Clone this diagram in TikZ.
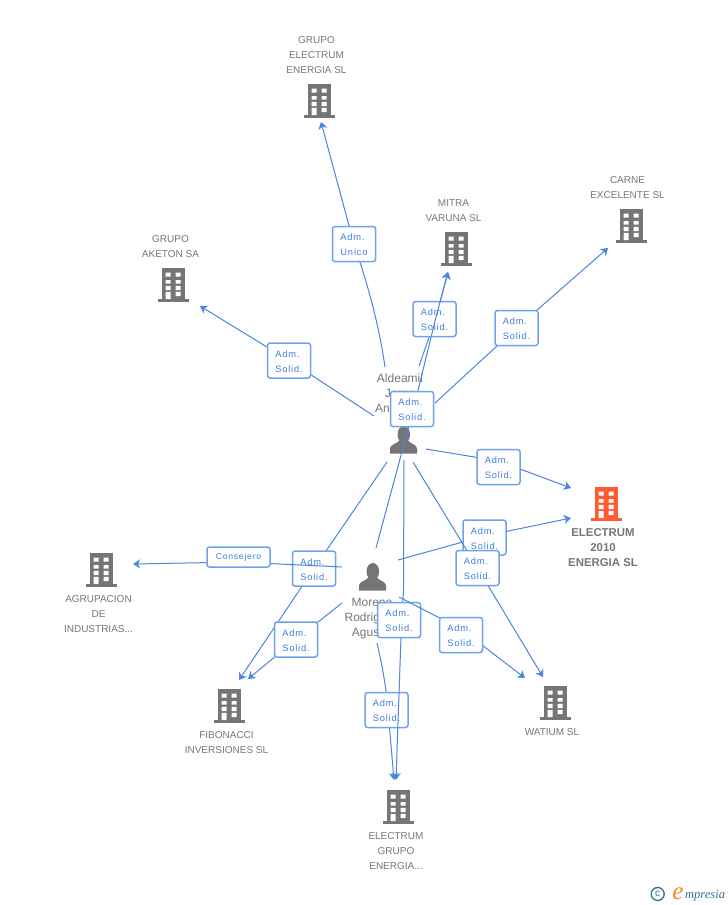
\documentclass[tikz,border=0pt]{standalone}
\usepackage{fontspec}
\setmainfont{Liberation Sans}
\newfontfamily\labfont[LetterSpace=9]{Liberation Sans}
\newfontfamily\logofont{Liberation Serif}
\usetikzlibrary{arrows.meta}
\newcommand\admlab[1]{\rule{0pt}{9pt}Adm.\\#1}
\definecolor{edgeblue}{HTML}{4A86E0}
\definecolor{boxblue}{HTML}{6FA2EC}
\definecolor{labblue}{HTML}{3C7DDC}
\definecolor{icongrey}{HTML}{757575}
\definecolor{txtgrey}{HTML}{777777}
\definecolor{accent}{HTML}{FF5A30}
\definecolor{logoteal}{HTML}{2F6F8F}
\definecolor{logoorange}{HTML}{F5891F}
\tikzset{
  edge/.style={draw=edgeblue,line width=1pt,-{Stealth[length=7pt,width=9pt,inset=2pt]}},
  lab/.style={draw=boxblue,line width=1.5pt,fill=white,rounded corners=2.5pt,
    minimum width=43pt,minimum height=35pt,inner sep=0pt,text=labblue,align=left,
    font=\labfont\fontsize{9.3}{15}\selectfont},
  conslab/.style={lab,minimum width=63pt,minimum height=20pt,align=center,
    font=\fontsize{8.6}{10}\selectfont\labfont},
  comp/.style={text=txtgrey,align=center,inner sep=0pt,font=\fontsize{10}{15}\selectfont},
  compmain/.style={comp,font=\fontsize{11.4}{15}\selectfont\bfseries},
  pers/.style={text=txtgrey,align=center,inner sep=0pt,font=\fontsize{12}{15}\selectfont},
  anchorpt/.style={inner sep=0pt,minimum size=0pt},
  pics/bldg/.style={code={
    \fill[#1] (-11.5,-17) rectangle (11.5,14);
    \fill[#1] (-15.5,14) rectangle (16,17);
    \fill[white] (-7.5,-12.5) rectangle (-2.5,-8.5) (2.5,-12.5) rectangle (7.5,-8.5)
      (-7.5,-5) rectangle (-2.5,-1.5) (2.5,-5) rectangle (7.5,-1.5)
      (-7.5,.8) rectangle (-2.5,5) (2.5,.8) rectangle (7.5,5)
      (-7.5,6.8) rectangle (-2.5,14) (2.5,6.8) rectangle (7.5,11);
  }},
  pics/person/.style={code={
    \fill[icongrey] (0.3,-6) ellipse (6.3 and 8.5);
    \fill[icongrey] (-13.5,13) -- (-13.5,8) .. controls (-13.5,4) and (-7,3.5) .. (-4,0)
      -- (4.5,0) .. controls (7,3.5) and (13.5,4) .. (13.5,8) -- (13.5,13) -- cycle;
  }}
}
\begin{document}
\begin{tikzpicture}[x=1pt,y=-1pt]
\useasboundingbox (0,0) rectangle (728,905);
\fill[white] (0,0) rectangle (728,905);
% anchors
\node[anchorpt] (ald) at (403,440) {};
\node[anchorpt] (mor) at (372,577) {};
\node[anchorpt] (b1) at (319,101) {};
\node[anchorpt] (b2) at (173,285) {};
\node[anchorpt] (b3) at (456,249) {};
\node[anchorpt] (b4) at (631,226) {};
\node[anchorpt] (b5) at (606,504) {};
\node[anchorpt] (b6) at (101,570) {};
\node[anchorpt] (b7) at (229,706) {};
\node[anchorpt] (b8) at (555,703) {};
\node[anchorpt] (b9) at (398,807) {};
% icons
\pic at (b1) {bldg=icongrey};
\pic at (b2) {bldg=icongrey};
\pic at (b3) {bldg=icongrey};
\pic at (b4) {bldg=icongrey};
\pic at (b5) {bldg=accent};
\pic at (b6) {bldg=icongrey};
\pic at (b7) {bldg=icongrey};
\pic at (b8) {bldg=icongrey};
\pic at (b9) {bldg=icongrey};
\pic at (403.5,440.5) {person};
\pic at (372.5,577.5) {person};
% texts
\node[comp] (tb1) at (316.5,55) {GRUPO\\ELECTRUM\\ENERGIA SL};
\node[comp] (tb2) at (170.5,246.5) {GRUPO\\AKETON SA};
\node[comp] (tb3) at (453.5,210.5) {MITRA\\VARUNA SL};
\node[comp] (tb4) at (627.5,187.5) {CARNE\\EXCELENTE SL};
\node[compmain] (tb5) at (603,547.5) {ELECTRUM\\2010\\ENERGIA SL};
\node[comp] (tb6) at (98.5,614) {AGRUPACION\\DE\\INDUSTRIAS...};
\node[comp] (tb7) at (226.5,742.5) {FIBONACCI\\INVERSIONES SL};
\node[comp] (tb8) at (552,732) {WATIUM SL};
\node[comp] (tb9) at (396,851) {ELECTRUM\\GRUPO\\ENERGIA...};
\node[pers] (tald) at (400,393) {Aldeamil\\Jorge\\\makebox[50pt][l]{An...}};
\node[pers] (tmor) at (372,619) {Moreno\\Rodriguez\\Agustin};
% connectors with labels
\draw[edge] ([shift={(-18,-73)}]ald.center) .. controls (379,325) and (368,285) .. (354,244) node[lab] (l1) {\admlab{Unico}} -- ([shift={(2,21)}]b1.center);
\draw[edge] ([shift={(-29,-24)}]ald.center) -- (289,360.5) node[lab] (l2) {\admlab{Solid.}} -- ([shift={(27,21)}]b2.center);
\draw[edge] ([shift={(16,-74)}]ald.center) -- (435.5,319) node[lab,xshift=-1pt] (l3) {\admlab{Solid.}} -- ([shift={(-8,23)}]b3.center);
\draw[edge] ([shift={(32,-37)}]ald.center) -- (516.5,328) node[lab] (l4) {\admlab{Solid.}} -- ([shift={(-23,22)}]b4.center);
\draw[edge] ([shift={(4,-29)}]mor.center) -- (413.5,409) node[lab,xshift=-1.5pt] (l5) {\admlab{Solid.}} -- (435.5,319) -- ([shift={(-8,23)}]b3.center);
\draw[edge] ([shift={(23,9)}]ald.center) -- (498.5,461) node[lab,yshift=-6pt] (l6) {\admlab{Solid.}} -- ([shift={(-35,-16)}]b5.center);
\draw[edge] ([shift={(26,-17)}]mor.center) -- (484.5,536) node[lab,yshift=-1.5pt] (l8) {\admlab{Solid.}} -- ([shift={(-35,14)}]b5.center);
\draw[edge] ([shift={(10,22)}]ald.center) -- (477.5,568) node[lab] (l7) {\admlab{Solid.}} -- ([shift={(-12,-26)}]b8.center);
\draw[edge] ([shift={(-16,22)}]ald.center) -- (314,568.5) node[lab] (l9) {\admlab{Solid.}} -- ([shift={(10,-26)}]b7.center);
\draw[edge] ([shift={(-30,-10)}]mor.center) -- (238.5,562) node[conslab,yshift=5pt] (l10) {Consejero} -- ([shift={(32,-6)}]b6.center);
\draw[edge] ([shift={(-30,26)}]mor.center) -- (296,639.5) node[lab] (l11) {\admlab{Solid.}} -- ([shift={(19,-27)}]b7.center);
\draw[edge] ([shift={(5,66)}]mor.center) .. controls (382,665) and (386,685) .. (388,710) node[lab,xshift=-1.5pt] (l14) {\admlab{Solid.}} -- ([shift={(-4,-27)}]b9.center);
\draw[edge] ([shift={(1,20)}]ald.center) -- (403.5,590) -- (402,620) node[lab,xshift=-3pt] (l13) {\admlab{Solid.}} -- (401,637) -- ([shift={(-2,-27)}]b9.center);
\draw[edge] ([shift={(27,20)}]mor.center) -- (461,629) node[lab,yshift=-6pt] (l12) {\admlab{Solid.}} -- ([shift={(-30,-25)}]b8.center);
% logo
\node[circle,draw=logoteal,line width=1.3pt,inner sep=0pt,minimum size=13pt,text=logoteal,font=\fontsize{10}{10}\selectfont] (lc) at (657.7,894) {c};
\node[inner sep=0pt,text=logoorange,font=\logofont\itshape\fontsize{25}{25}\selectfont] (le) at (678,893.5) {e};
\node[inner sep=0pt,text=logoteal,font=\logofont\itshape\fontsize{12.5}{14}\selectfont,anchor=west] (lm) at (685,895.5) {mpresia};
\end{tikzpicture}
\end{document}
